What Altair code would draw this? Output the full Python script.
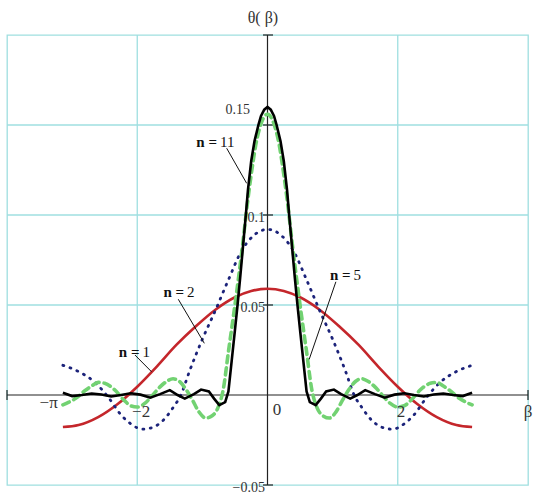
import altair as alt
import pandas as pd

# ---- curve samples: theta(beta) for n = 1, 2, 5, 11 ----
beta_n1 = [-3.1416, -2.9, -2.6, -2.3, -2.0, -1.7, -1.4, -1.1, -0.8, -0.5, -0.25, 0.0,
           0.25, 0.5, 0.8, 1.1, 1.4, 1.7, 2.0, 2.3, 2.6, 2.9, 3.1416]
theta_n1 = [-0.0178, -0.0167, -0.0123, -0.0050, 0.0046, 0.0158, 0.0278, 0.0382, 0.0474, 0.0543, 0.0578, 0.0590,
            0.0578, 0.0543, 0.0474, 0.0382, 0.0278, 0.0158, 0.0046, -0.0050, -0.0123, -0.0167, -0.0178]

beta_n2 = [-3.1416, -2.9, -2.65, -2.45, -2.25, -2.1, -1.92, -1.75, -1.6, -1.45, -1.33, -1.2, -1.0, -0.8, -0.6,
           -0.4, -0.2, 0.0, 0.2, 0.4, 0.6, 0.8, 1.0, 1.2, 1.33, 1.45, 1.6, 1.75, 1.92, 2.1, 2.25, 2.45, 2.65,
           2.9, 3.1416]
theta_n2 = [0.0165, 0.013, 0.007, -0.001, -0.011, -0.016, -0.019, -0.0178, -0.014, -0.007, 0.0, 0.013, 0.031,
            0.047, 0.064, 0.080, 0.089, 0.092, 0.089, 0.080, 0.064, 0.047, 0.031, 0.013, 0.0, -0.007, -0.014,
            -0.0178, -0.019, -0.016, -0.011, -0.001, 0.007, 0.013, 0.0165]

beta_n5 = [-3.1416, -3.05, -2.95, -2.8, -2.7, -2.6, -2.5, -2.35, -2.2, -2.1, -2.0, -1.88, -1.75, -1.65, -1.55,
           -1.45, -1.35, -1.25, -1.15, -1.05, -0.95, -0.85, -0.76, -0.68, -0.6, -0.5, -0.4, -0.3, -0.22,
           -0.18, -0.13, -0.06, 0.0, 0.06, 0.13, 0.18, 0.22, 0.3, 0.4, 0.5, 0.6, 0.68, 0.76, 0.85, 0.95,
           1.05, 1.15, 1.25, 1.35, 1.45, 1.55, 1.65, 1.75, 1.88, 2.0, 2.1, 2.2, 2.35, 2.5, 2.6, 2.7, 2.8,
           2.95, 3.05, 3.1416]
theta_n5 = [-0.0055, -0.004, -0.002, 0.0025, 0.005, 0.007, 0.0065, 0.003, -0.003, -0.006, -0.0067, -0.0045,
            0.0005, 0.0045, 0.0075, 0.009, 0.0075, 0.003, -0.003, -0.0095, -0.0128, -0.0115, -0.007, 0.003,
            0.024, 0.050, 0.078, 0.109, 0.130, 0.139, 0.147, 0.154, 0.156, 0.154, 0.147, 0.139, 0.130, 0.109,
            0.078, 0.050, 0.024, 0.003, -0.007, -0.0115, -0.0128, -0.0095, -0.003, 0.003, 0.0075, 0.009,
            0.0075, 0.0045, 0.0005, -0.0045, -0.0067, -0.006, -0.003, 0.003, 0.0065, 0.007, 0.005, 0.0025,
            -0.002, -0.004, -0.0055]

beta_n11 = [-3.1416, -3.0, -2.85, -2.7, -2.55, -2.4, -2.25, -2.1, -1.95, -1.8, -1.65, -1.5, -1.38, -1.27,
            -1.13, -1.02, -0.9, -0.82, -0.74, -0.65, -0.6, -0.55, -0.5, -0.46, -0.42, -0.38, -0.33, -0.3,
            -0.25, -0.2, -0.14, -0.1, -0.05, 0.0, 0.05, 0.1, 0.14, 0.2, 0.25, 0.3, 0.33, 0.38, 0.42, 0.46,
            0.5, 0.55, 0.6, 0.65, 0.74, 0.82, 0.9, 1.02, 1.13, 1.27, 1.38, 1.5, 1.65, 1.8, 1.95, 2.1, 2.25,
            2.4, 2.55, 2.7, 2.85, 3.0, 3.1416]
theta_n11 = [0.0012, -0.0006, 0.0, 0.0008, 0.0003, -0.0008, 0.0, 0.001, 0.0002, -0.0015, 0.0005, 0.0027,
             0.0, -0.002, 0.0005, 0.003, 0.002, -0.002, -0.0056, -0.004, 0.002, 0.019, 0.036, 0.050, 0.065,
             0.081, 0.101, 0.114, 0.130, 0.141, 0.150, 0.155, 0.1585, 0.160, 0.1585, 0.155, 0.150, 0.141,
             0.130, 0.114, 0.101, 0.081, 0.065, 0.050, 0.036, 0.019, 0.002, -0.004, -0.0056, -0.002, 0.002,
             0.003, 0.0005, -0.002, 0.0, 0.0027, 0.0005, -0.0015, 0.0002, 0.001, 0.0, -0.0008, 0.0003,
             0.0008, 0.0, -0.0006, 0.0012]

# ---- axis decorations ----
x_grid = [-2, 2]
y_grid = [0.05, 0.1, 0.15]
y_tick_values = [-0.05, 0.05, 0.1, 0.15, 0.2]
x_tick_values = [-4, 4]

y_label_text = ["0.15", "0.1", "0.05", "\u22120.05"]
y_label_x = [-0.27, -0.04, -0.04, -0.04]
y_label_y = [0.1583, 0.0983, 0.0483, -0.0517]

x_label_text = ["\u2212\u03c0", "\u22122", "0", "2", "\u03b2"]
x_label_x = [-3.36, -1.94, 0.146, 2.05, 4.0]
x_label_y = [-0.0044, -0.0094, -0.0083, -0.0094, -0.0094]

# ---- curve annotations ----
ann_n = ["1", "2", "5", "11"]
ann_x = [-1.935, -1.25, 1.306, -0.745]
ann_y = [0.0241, 0.0574, 0.0667, 0.1406]
lead_x1 = [-2.035, -1.37, 1.05, -0.627]
lead_y1 = [0.0222, 0.0532, 0.0629, 0.1371]
lead_x2 = [-1.78, -0.97, 0.64, -0.32]
lead_y2 = [0.0129, 0.0287, 0.0198, 0.1176]

GRID = "#9fdfe0"
SERIF = "Liberation Serif"

xs = alt.Scale(domain=[-4, 4], nice=False, zero=False)
ys = alt.Scale(domain=[-0.05, 0.2], nice=False, zero=False)


def curve(b, t, color, width, dash=None, interp="monotone"):
    df = pd.DataFrame({"beta": b, "theta": t})
    kw = dict(color=color, strokeWidth=width, interpolate=interp, clip=True)
    if dash is not None:
        kw["strokeDash"] = dash
        kw["strokeCap"] = "round"
    return alt.Chart(df).mark_line(**kw).encode(
        x=alt.X("beta:Q", scale=xs, axis=None),
        y=alt.Y("theta:Q", scale=ys, axis=None),
    )


# light grid lines
vgrid = alt.Chart(pd.DataFrame({"v": x_grid})).mark_rule(color=GRID, strokeWidth=1.3).encode(
    x=alt.X("v:Q", scale=xs, axis=None)
)
hgrid = alt.Chart(pd.DataFrame({"v": y_grid})).mark_rule(color=GRID, strokeWidth=1.3).encode(
    y=alt.Y("v:Q", scale=ys, axis=None)
)

# main axis lines through the origin
axis_lines = pd.DataFrame({
    "x1": [-4, 0], "x2": [4, 0], "y1": [0, -0.05], "y2": [0, 0.2],
})
axes = alt.Chart(axis_lines).mark_rule(color="#222", strokeWidth=1.2).encode(
    x=alt.X("x1:Q", scale=xs, axis=None), x2="x2:Q",
    y=alt.Y("y1:Q", scale=ys, axis=None), y2="y2:Q",
)

ytick_df = pd.DataFrame({"v": y_tick_values})
yticks = alt.Chart(ytick_df).mark_rule(color="#222", strokeWidth=1.2).encode(
    x=alt.value(256), x2=alt.value(266),
    y=alt.Y("v:Q", scale=ys, axis=None),
)
xtick_df = pd.DataFrame({"v": x_tick_values})
xticks = alt.Chart(xtick_df).mark_rule(color="#222", strokeWidth=1.2).encode(
    x=alt.X("v:Q", scale=xs, axis=None),
    y=alt.value(355), y2=alt.value(365),
)

ylab = alt.Chart(pd.DataFrame({"x": y_label_x, "y": y_label_y, "t": y_label_text})).mark_text(
    font=SERIF, fontSize=14, color="#333", align="right", baseline="middle"
).encode(x=alt.X("x:Q", scale=xs), y=alt.Y("y:Q", scale=ys), text="t:N")

xlab = alt.Chart(pd.DataFrame({"x": x_label_x, "y": x_label_y, "t": x_label_text})).mark_text(
    font=SERIF, fontSize=17, color="#333", align="center", baseline="middle"
).encode(x=alt.X("x:Q", scale=xs), y=alt.Y("y:Q", scale=ys), text="t:N")

title = alt.Chart(pd.DataFrame({"x": [-0.07], "y": [0.2094], "t": ["\u03b8( \u03b2)"]})).mark_text(
    font=SERIF, fontSize=16, color="#333", align="center", baseline="middle"
).encode(x=alt.X("x:Q", scale=xs), y=alt.Y("y:Q", scale=ys), text="t:N")

ann_df = pd.DataFrame({"x": ann_x, "y": ann_y, "n": ann_n,
                       "x1": lead_x1, "y1": lead_y1, "x2": lead_x2, "y2": lead_y2})
ann_eq = alt.Chart(ann_df).mark_text(
    font=SERIF, fontSize=15, fontWeight="bold", color="#111", align="right", baseline="middle", dx=-2
).encode(x=alt.X("x:Q", scale=xs), y=alt.Y("y:Q", scale=ys), text=alt.value("n ="))
ann_num = alt.Chart(ann_df).mark_text(
    font=SERIF, fontSize=15, color="#111", align="left", baseline="middle", dx=1
).encode(x=alt.X("x:Q", scale=xs), y=alt.Y("y:Q", scale=ys), text="n:N")
leaders = alt.Chart(ann_df).mark_rule(color="#111", strokeWidth=1).encode(
    x=alt.X("x1:Q", scale=xs), x2="x2:Q", y=alt.Y("y1:Q", scale=ys), y2="y2:Q"
)

red = curve(beta_n1, theta_n1, "#c4262b", 2.6)
blue = curve(beta_n2, theta_n2, "#1c237a", 2.8, dash=[1, 6.5])
green = curve(beta_n5, theta_n5, "#72d272", 3.6, dash=[7, 5])
black = curve(beta_n11, theta_n11, "#000000", 2.6, interp="linear")

chart = alt.layer(
    vgrid, hgrid, axes, yticks, xticks, red, blue, green, black,
    leaders, ann_eq, ann_num, ylab, xlab, title,
).properties(
    width=521, height=450,
    autosize=alt.AutoSizeParams(type="none"),
    padding={"left": 7, "top": 35, "right": 9, "bottom": 10},
    background="white",
).configure_view(stroke=GRID, strokeWidth=1.3)

chart.save("out.html", embed_options={"renderer": "svg", "actions": False})
